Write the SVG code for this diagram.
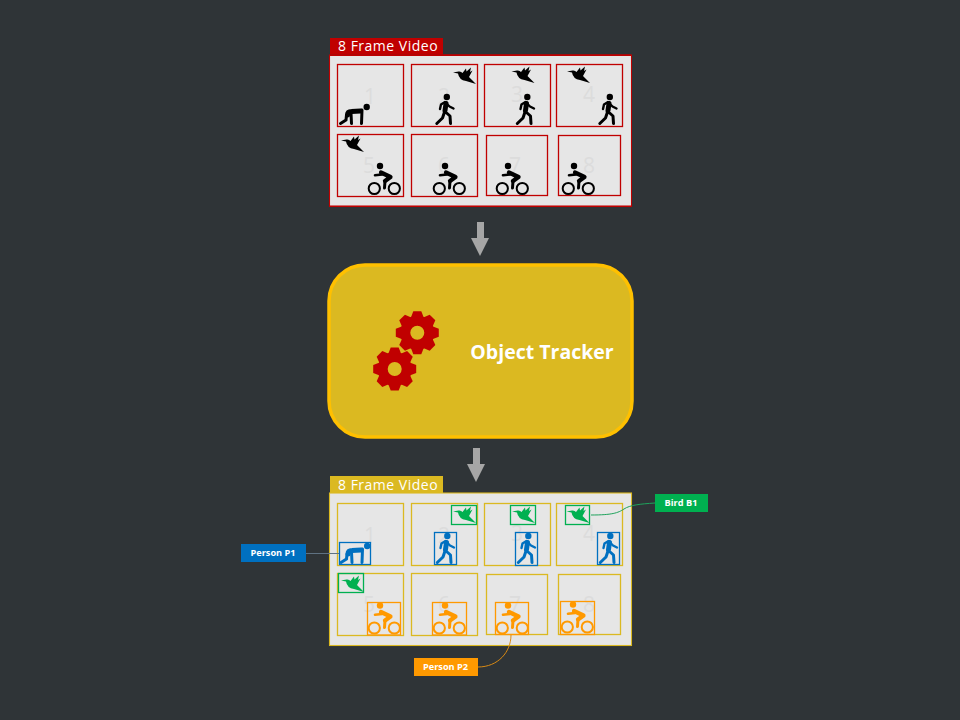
<svg xmlns="http://www.w3.org/2000/svg" xmlns:xlink="http://www.w3.org/1999/xlink" width="960" height="720" viewBox="0 0 960 720">
<style>
text{font-family:"Open Sans","Noto Sans","Liberation Sans",sans-serif}
.panel{fill:#e6e6e6;stroke-width:1.1}
.fr{fill:#e6e6e6;stroke-width:1.3}
.red{stroke:#c00000}
.yel{stroke:#dbb921}
.num{font-size:21px;fill:#dcdcdc;text-anchor:middle}
.hd{font-size:14px;fill:#fff;letter-spacing:.5px}
.tag{font-size:9.2px;font-weight:700;fill:#fff;text-anchor:middle}
.box{fill:none;stroke-width:1.3}
.b{color:#0070c0;stroke:#0070c0}
.g{color:#00b050;stroke:#00b050}
.o{color:#ff9900;stroke:#ff9900}
.k{color:#000}
.ln{fill:none;stroke:currentColor;stroke-linecap:round;stroke-linejoin:round}
.use{stroke:none}
.t{fill:#c00000}
</style>
<defs>
<symbol id="walk" overflow="visible" viewBox="0 0 20 31" width="20" height="31">
<circle cx="11.8" cy="3" r="3.2" fill="currentColor"/>
<path class="ln" stroke-width="5" d="M11 9.500 L10 16.500"/>
<path class="ln" stroke-width="2.400" d="M5 15 L6 10.500 L10 8 L14.500 12.500 L18.500 14.500"/>
<path class="ln" stroke-width="3" d="M9.500 18 L7.500 24 L1.800 29.500 M10.500 18 L15 22 L15.500 29.500"/>
</symbol>
<symbol id="crouch" overflow="visible" viewBox="0 0 31 21" width="31" height="21">
<circle cx="27.7" cy="3" r="3.2" fill="currentColor"/>
<path class="ln" stroke-width="5" d="M8.500 11 Q8.500 7.500 12.500 7.500 L21.500 7"/>
<path class="ln" stroke-width="3" d="M23 6 L22.500 19.500 M7.500 11 L7 16 L1.500 19.500 M12 9 L12.500 19.500"/>
</symbol>
<symbol id="bird" overflow="visible" viewBox="0 0 23 17" width="23" height="17">
<path fill="currentColor" d="M0 5.500 L5.500 4.500 Q8 4 9.500 6 L13 1.500 L13.500 4.500 L18 0.500 L17 5 L19.500 3.500 L16 10 L23 17 L13 14 Q6 13 5 6.500 Z"/>
</symbol>
<symbol id="bike" overflow="visible" viewBox="0 0 33 32" width="33" height="32">
<circle cx="12" cy="3" r="3.2" fill="currentColor"/>
<circle cx="6.3" cy="25.5" r="5.6" fill="none" stroke="currentColor" stroke-width="2"/>
<circle cx="26.3" cy="25.5" r="5.6" fill="none" stroke="currentColor" stroke-width="2"/>
<path class="ln" stroke-width="4.200" d="M13 9.500 L22.500 14 L17 18"/>
<path class="ln" stroke-width="3" d="M17 18 L16.500 25"/>
<path class="ln" stroke-width="2.600" d="M7 12.300 L14 11.500"/>
</symbol>
<symbol id="gear" overflow="visible" viewBox="-22 -22 44 44" width="44" height="44">
<circle r="12" fill="none" stroke="#c00000" stroke-width="10"/>
<g id="teeth">
<path class="t" id="t1" d="M-6.500 -15 L-4 -21.500 H4 L6.500 -15Z"/>
<use href="#t1" transform="rotate(45)"/>
<use href="#t1" transform="rotate(90)"/>
<use href="#t1" transform="rotate(135)"/>
<use href="#t1" transform="rotate(180)"/>
<use href="#t1" transform="rotate(225)"/>
<use href="#t1" transform="rotate(270)"/>
<use href="#t1" transform="rotate(315)"/>
</g>
</symbol>
</defs>
<rect width="960" height="720" fill="#2f3437"/>

<g id="connectors">
<path d="M477 222h7v16h5l-9 18-9-18h6z" fill="#a6a6a6"/>
<path d="M473 448h7v16h5l-9 18-9-18h6z" fill="#a6a6a6"/>
</g>

<g id="input-video">
<rect class="panel red" x="329.500" y="55" width="302" height="151.500"/>
<rect x="330" y="54.500" width="301" height="1.500" fill="#c00000"/>
<rect x="330" y="205.500" width="301" height="1.500" fill="#c00000"/>
<rect x="330" y="38" width="113" height="16.500" fill="#c00000"/>
<text class="hd" x="338" y="51">8 Frame Video</text>
<g class="red">
<rect class="fr" x="337.500" y="64.500" width="66" height="62"/>
<rect class="fr" x="411.500" y="64.500" width="66" height="62"/>
<rect class="fr" x="484.500" y="64.500" width="66" height="62"/>
<rect class="fr" x="556.500" y="64.500" width="66" height="62"/>
<rect class="fr" x="337.500" y="134.500" width="66" height="62"/>
<rect class="fr" x="411.500" y="134.500" width="66" height="62"/>
<rect class="fr" x="486.500" y="135.500" width="61" height="60"/>
<rect class="fr" x="558.500" y="135.500" width="62" height="60"/>
</g>
<g stroke="none">
<text class="num" x="370" y="104">1</text>
<text class="num" x="444" y="104">2</text>
<text class="num" x="517" y="102">3</text>
<text class="num" x="589" y="102">4</text>
<text class="num" x="369" y="173">5</text>
<text class="num" x="444" y="173">6</text>
<text class="num" x="515" y="173">7</text>
<text class="num" x="589" y="173">8</text>
</g>
<g class="k">
<use href="#crouch" x="339" y="104"/>
<use href="#walk" x="435" y="94"/>
<use href="#bird" x="453" y="67"/>
<use href="#walk" x="515.500" y="94"/>
<use href="#bird" x="511.500" y="66"/>
<use href="#walk" x="598" y="94"/>
<use href="#bird" x="567" y="66"/>
<use href="#bird" x="341" y="135"/>
<use href="#bike" x="368" y="163"/>
<use href="#bike" x="433" y="163"/>
<use href="#bike" x="496" y="163"/>
<use href="#bike" x="562" y="163"/>
</g>
</g>

<g id="object-tracker">
<rect x="329" y="265" width="303" height="172" rx="36" fill="#dbb921" stroke="#ffc000" stroke-width="3.500"/>
<use href="#gear" x="395.300" y="310.700"/>
<use href="#gear" x="372.700" y="347"/>
<text x="542" y="359" font-size="19.500" font-weight="700" fill="#fff" text-anchor="middle">Object Tracker</text>
</g>

<g id="output-video">
<rect class="panel yel" x="329.500" y="493" width="302" height="152.500"/>
<rect x="330" y="476" width="113" height="17" fill="#dbb921"/>
<text class="hd" x="338" y="490">8 Frame Video</text>
<g class="yel">
<rect class="fr" x="337.500" y="503.500" width="66" height="62"/>
<rect class="fr" x="411.500" y="503.500" width="66" height="62"/>
<rect class="fr" x="484.500" y="503.500" width="66" height="62"/>
<rect class="fr" x="556.500" y="503.500" width="66" height="62"/>
<rect class="fr" x="337.500" y="573.500" width="66" height="62"/>
<rect class="fr" x="411.500" y="573.500" width="66" height="62"/>
<rect class="fr" x="486.500" y="574.500" width="61" height="60"/>
<rect class="fr" x="558.500" y="574.500" width="62" height="60"/>
</g>
<g stroke="none">
<text class="num" x="370" y="543">1</text>
<text class="num" x="444" y="543">2</text>
<text class="num" x="517" y="541">3</text>
<text class="num" x="589" y="541">4</text>
<text class="num" x="369" y="612">5</text>
<text class="num" x="444" y="612">6</text>
<text class="num" x="515" y="612">7</text>
<text class="num" x="589" y="612">8</text>
</g>
<g class="b">
<use class="use" href="#crouch" x="339.500" y="543"/>
<rect class="box" x="339.500" y="542.500" width="31" height="22"/>
<use class="use" href="#walk" x="435.500" y="533"/>
<rect class="box" x="434.500" y="532.500" width="22" height="32"/>
<use class="use" href="#walk" x="516.500" y="533"/>
<rect class="box" x="515.500" y="532.500" width="22" height="33"/>
<use class="use" href="#walk" x="598.500" y="533"/>
<rect class="box" x="597.500" y="532.500" width="22" height="32"/>
</g>
<g class="g">
<use class="use" href="#bird" x="453" y="506"/>
<rect class="box" x="451.500" y="505.500" width="25" height="19"/>
<use class="use" href="#bird" x="512" y="506"/>
<rect class="box" x="510.500" y="505.500" width="25" height="19"/>
<use class="use" href="#bird" x="566.500" y="506"/>
<rect class="box" x="565.500" y="505.500" width="24" height="19"/>
<use class="use" href="#bird" x="341" y="575"/>
<rect class="box" x="338.500" y="573.500" width="25" height="19"/>
</g>
<g class="o">
<use class="use" href="#bike" x="368" y="602.500"/>
<rect class="box" x="367.500" y="602.500" width="33" height="32.500"/>
<use class="use" href="#bike" x="433" y="602.500"/>
<rect class="box" x="432.500" y="602.500" width="34" height="32.500"/>
<use class="use" href="#bike" x="496" y="602.500"/>
<rect class="box" x="495.500" y="602.500" width="33" height="32"/>
<use class="use" href="#bike" x="561" y="601.500"/>
<rect class="box" x="560.500" y="601.500" width="34" height="33"/>
</g>
</g>

<g id="annotation-lines" fill="none" stroke-width="1">
<path d="M306 553.500H339" stroke="#5f7282"/>
<path d="M591 515 C612 515 618 513 624 509 C630 505 640 504 655 503" stroke="#1fa35c"/>
<path d="M478 667 C498 667 511 652 511 635" stroke="#d98a14"/>
</g>

<g id="person-p1">
<rect x="241" y="544" width="65" height="18" fill="#0070c0"/>
<text class="tag" x="273" y="556">Person P1</text>
</g>
<g id="bird-b1">
<rect x="655" y="494" width="53" height="18" fill="#00b050"/>
<text class="tag" x="681" y="506">Bird B1</text>
</g>
<g id="person-p2">
<rect x="414" y="658" width="64" height="18" fill="#ff9900"/>
<text class="tag" x="445.500" y="670">Person P2</text>
</g>
</svg>
